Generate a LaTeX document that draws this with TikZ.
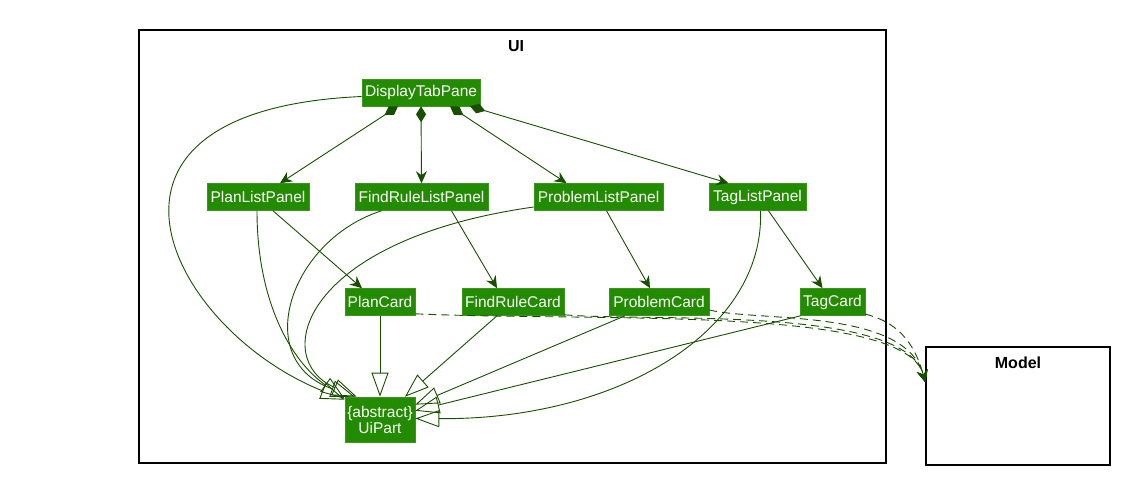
\documentclass[tikz,border=0pt]{standalone}
\usepackage{fontspec}
\setmainfont{Liberation Sans}
\usetikzlibrary{arrows.meta,calc}
\definecolor{boxgreen}{RGB}{34,139,0}
\definecolor{boxedge}{RGB}{60,150,30}
\definecolor{edgegreen}{RGB}{24,78,0}
\begin{document}
\begin{tikzpicture}[x=1pt,y=-1pt,
  cls/.style={fill=boxgreen, draw=boxedge, line width=0.6pt, text=white,
    font=\fontsize{15.5}{18}\selectfont, inner xsep=2pt, inner ysep=0pt,
    minimum height=27pt, align=center},
  frame/.style={draw=black, line width=1.4pt, inner sep=0pt},
  flabel/.style={font=\fontsize{16}{18}\selectfont\bfseries},
  rel/.style={draw=edgegreen, line width=0.9pt},
  comp/.style={rel, {Diamond[length=16pt,width=10pt]}-{Stealth[length=12pt,width=11pt,inset=4pt]}},
  assoc/.style={rel, -{Stealth[length=12pt,width=11pt,inset=4pt]}},
  inh/.style={rel, -{Triangle[open,length=24pt,width=17pt]}},
  dep/.style={rel, dash pattern=on 8pt off 5pt, -{Stealth[length=12pt,width=11pt,inset=4pt]}}
]
\useasboundingbox (0,0) rectangle (1123,477);

% frames
\node[frame, minimum width=747pt, minimum height=433pt] (ui) at (512.5,246.5) {};
\node[flabel] (uilabel) at (516,46) {UI};
\node[frame, minimum width=184pt, minimum height=118pt] (model) at (1018,406) {};
\node[flabel] (modellabel) at (1018,363) {Model};

% classes
\node[cls, minimum width=118pt] (dtp) at (421,92.5) {DisplayTabPane};
\node[cls, minimum width=102pt] (plp) at (258,197) {PlanListPanel};
\node[cls, minimum width=133pt] (frlp) at (421.5,197) {FindRuleListPanel};
\node[cls, minimum width=129pt] (prlp) at (598.5,197) {ProblemListPanel};
\node[cls, minimum width=97pt] (tlp) at (757.5,197) {TagListPanel};
\node[cls, minimum width=70pt] (pc) at (380,302) {PlanCard};
\node[cls, minimum width=102pt] (frc) at (513,302) {FindRuleCard};
\node[cls, minimum width=100pt] (prc) at (659,302) {ProblemCard};
\node[cls, minimum width=65pt] (tc) at (832.5,302) {TagCard};
\node[cls, minimum width=70pt, minimum height=45pt, inner ysep=1pt] (uip) at (380,419.5) {\{abstract\}\\[-2pt]UiPart};

% composition
\draw[comp] ($(dtp.south)+(-23,0)$) -- ($(plp.north)+(22,0)$);
\draw[comp] (dtp.south) -- (frlp.north);
\draw[comp] ($(dtp.south)+(29,0)$) -- ($(prlp.north)+(-32,0)$);
\draw[comp] ($(dtp.south)+(49,0)$) -- ($(tlp.north)+(-29,0)$);

% associations
\draw[assoc] ($(plp.south)+(15,0)$) -- ($(pc.north)+(-18,0)$);
\draw[assoc] ($(frlp.south)+(30,0)$) -- ($(frc.north)+(-16,0)$);
\draw[assoc] ($(prlp.south)+(8,0)$) -- ($(prc.north)+(-9,0)$);
\draw[assoc] ($(tlp.south)+(11,0)$) -- ($(tc.north)+(-10,0)$);

% inheritance
\draw[inh] ($(dtp.west)+(0,4)$) .. controls (55,110) and (170,330) .. ($(uip.north west)+(0,3)$);
\draw[inh] ($(plp.south)+(-1,0)$) .. controls (257,300) and (290,360) .. ($(uip.north west)+(0,2)$);
\draw[inh] ($(frlp.south)+(-40,0)$) .. controls (290,240) and (250,360) .. ($(uip.north west)+(10,0)$);
\draw[inh] ($(prlp.west)+(0,10)$) .. controls (300,240) and (270,360) .. ($(uip.north west)+(12,0)$);
\draw[inh] (pc.south) -- (uip.north);
\draw[inh] ($(frc.south)+(-16,0)$) -- ($(uip.north)+(25,0)$);
\draw[inh] ($(prc.south)+(-34,0)$) -- ($(uip.north east)+(0,8)$);
\draw[inh] ($(tc.south)+(-32,0)$) -- ($(uip.north east)+(0,14)$);
\draw[inh] ($(tlp.south)+(3,0)$) .. controls (765,330) and (620,420) .. ($(uip.east)+(0,-1)$);

% dependencies to Model
\draw[dep] ($(pc.south east)+(0,-2)$) .. controls (600,322) and (905,305) .. ($(model.north west)+(0,36)$);
\draw[dep] ($(frc.south east)+(0,-1)$) .. controls (650,322) and (905,305) .. ($(model.north west)+(0,36)$);
\draw[dep] ($(prc.east)+(0,8)$) .. controls (760,322) and (905,308) .. ($(model.north west)+(0,36)$);
\draw[dep] ($(tc.east)+(0,12)$) .. controls (878,318) and (910,325) .. ($(model.north west)+(0,36)$);
\end{tikzpicture}
\end{document}
